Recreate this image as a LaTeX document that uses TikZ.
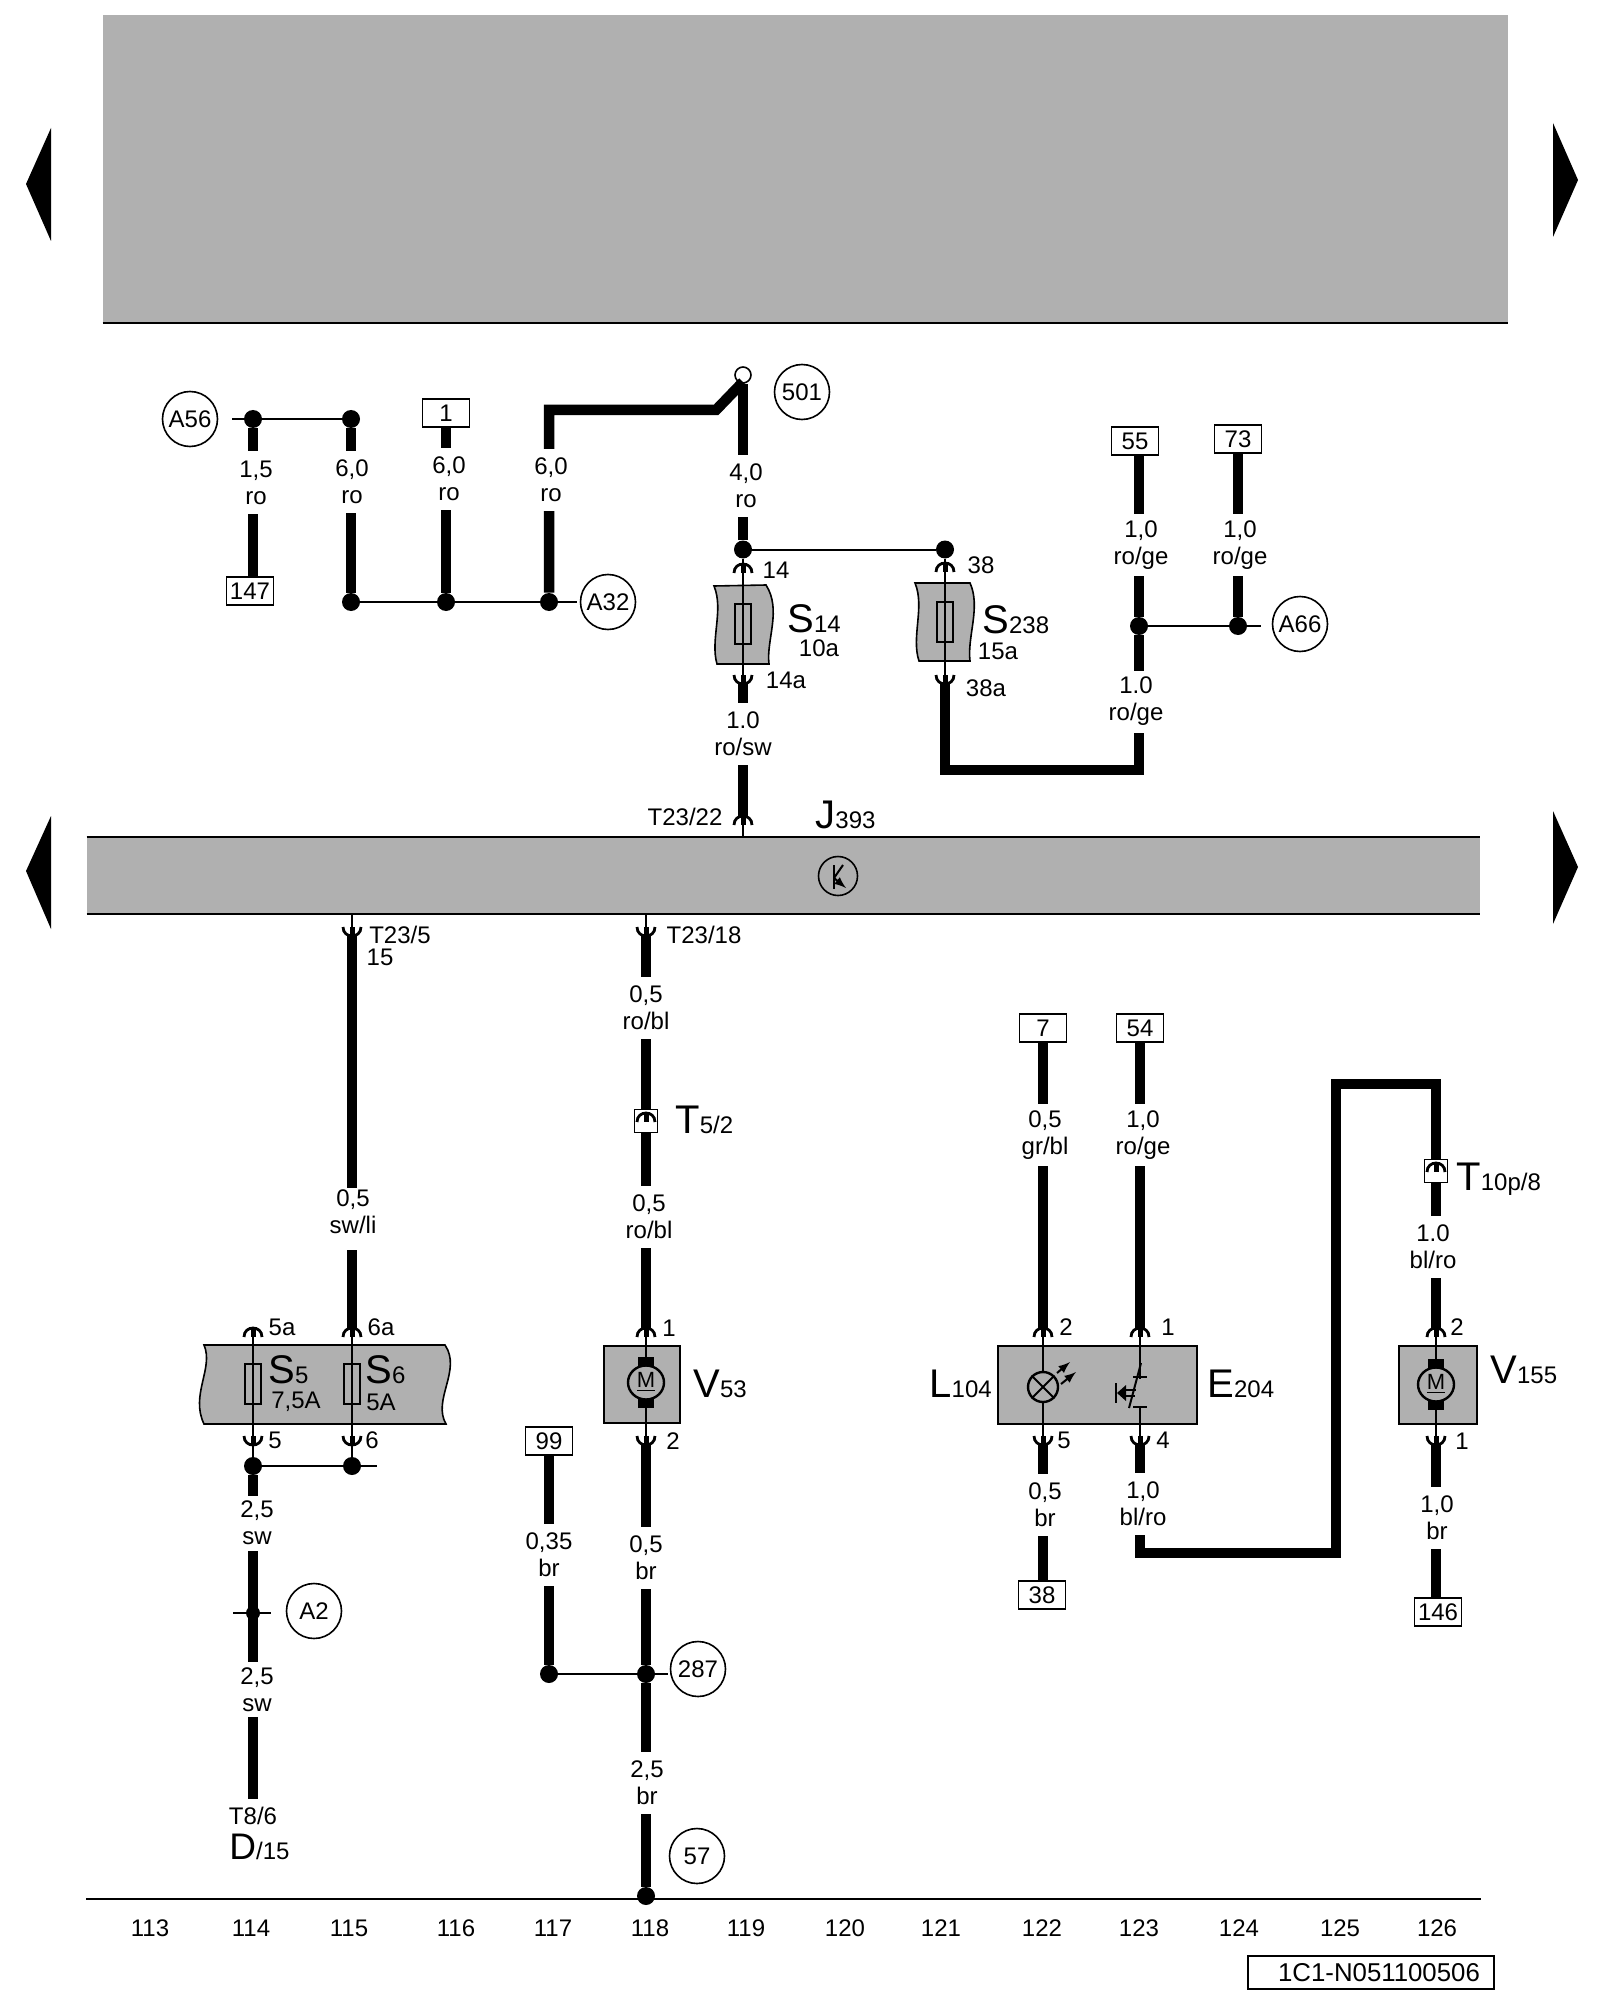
\documentclass[tikz,border=0pt]{standalone}
\usepackage{fontspec}
\setmainfont{Liberation Sans}

\newcommand{\bigs}[2]{{\fontsize{20}{22}\selectfont #1}{\fontsize{12}{14}\selectfont #2}}

\tikzset{
  wire/.style={line width=5.25pt},
  thinw/.style={line width=1pt},
  dotn/.style={circle,fill=black,inner sep=0pt,minimum size=9pt},
  refbox/.style={draw,thick,fill=white,inner sep=0pt,minimum width=23.5pt,minimum height=14pt,font=\fontsize{12}{14}\selectfont},
  tagc/.style={draw,thick,circle,inner sep=0pt,minimum size=27.5pt,font=\fontsize{12}{14}\selectfont},
  lbl/.style={fill=white,inner sep=0pt,align=center,minimum width=20pt,minimum height=#1,font=\fontsize{12}{13.5}\selectfont},
  lbl/.default=31pt,
  txt/.style={inner sep=0pt,font=\fontsize{12}{13.5}\selectfont},
  des/.style={inner sep=0pt,anchor=base west},
  block/.style={draw,thick,fill=panel,inner sep=0pt},
  fuse/.style={draw,thick,inner sep=0pt,minimum width=8pt,minimum height=20pt},
  tbox/.style={draw,thick,fill=white,inner sep=0pt,minimum size=11.5pt},
  plugtop/.pic={
    \draw[line width=1.4pt] (-9,9) .. controls (-9,-3) and (9,-3) .. (9,9);
    \draw[line width=2.5pt] (0,-1) -- (0,9);
  },
  plugbot/.pic={
    \draw[line width=1.4pt] (-9,-9) .. controls (-9,3) and (9,3) .. (9,-9);
    \draw[line width=2.5pt] (0,1) -- (0,-9);
  },
  motor/.pic={
    \fill (-8,-24) rectangle (8,-15);
    \fill (-8,18) rectangle (8,27);
    \draw[line width=1.2pt,fill=panel] (0,1.5) ellipse (18 and 17);
    \node[inner sep=0pt,font=\fontsize{11}{12}\selectfont] (-m) at (0,1) {\underline{M}};
  }
}
\definecolor{panel}{RGB}{176,176,176}

\begin{document}
\begin{tikzpicture}[x=0.5pt,y=-0.5pt]
  \useasboundingbox (0,0) rectangle (1600,2000);

  \fill (26,184) -- (51,128) -- (51,241) -- cycle;
  \fill (1578,180) -- (1553,123) -- (1553,237) -- cycle;
  \fill (26,871) -- (51,816) -- (51,929) -- cycle;
  \fill (1578,867) -- (1553,811) -- (1553,924) -- cycle;

  \node[fill=panel,inner sep=0pt,minimum width=702.5pt,minimum height=154pt] (top) at (805.5,169) {};
  \draw[thinw] (top.south west) -- (top.south east);
  \node[fill=panel,inner sep=0pt,minimum width=696.5pt,minimum height=38.5pt] (bar) at (783.5,875.5) {};
  \draw[thinw] (bar.north west) -- (bar.north east);
  \draw[thinw] (bar.south west) -- (bar.south east);

  \fill[panel,draw=black,thick] (714,586) .. controls (724,610) and (710,640) .. (717,664)
    -- (769,664) .. controls (766,640) and (782,610) .. (766,585) -- cycle;
  \fill[panel,draw=black,thick] (915,583) .. controls (925,607) and (911,637) .. (919,661)
    -- (970,661) .. controls (967,637) and (981,607) .. (970,583) -- cycle;
  \fill[panel,draw=black,thick] (204,1345) .. controls (214,1368) and (190,1395) .. (204,1424)
    -- (446,1424) .. controls (432,1400) and (462,1370) .. (445,1345) -- cycle;

  \node[block,minimum width=38pt,minimum height=38.5pt] (b53) at (642,1384.5) {};
  \node[block,minimum width=99.5pt,minimum height=39pt] (b104) at (1097.5,1385) {};
  \node[block,minimum width=39pt,minimum height=39pt] (b155) at (1438,1385) {};

  \node[tagc] (a56) at (190,419) {A56};
  \node[tagc] (a32) at (608,602) {A32};
  \node[tagc] (c501) at (802,392) {501};
  \node[tagc] (a66) at (1300,624) {A66};
  \node[tagc] (a2) at (314,1611) {A2};
  \node[tagc] (c287) at (698,1669) {287};
  \node[tagc] (c57) at (697,1856) {57};

  \node[refbox] (r147) at (250,591) {147};
  \node[refbox] (r1) at (446,413) {1};
  \node[refbox] (r55) at (1135,441) {55};
  \node[refbox] (r73) at (1238,439) {73};
  \node[refbox] (r99) at (549,1441) {99};
  \node[refbox] (r7) at (1043,1028) {7};
  \node[refbox] (r54) at (1140,1028) {54};
  \node[refbox] (r38) at (1042,1595) {38};
  \node[refbox] (r146) at (1438,1612) {146};

  \node[dotn] (j56) at (253,419) {};
  \node[dotn] (j56b) at (351,419) {};
  \node[dotn] (j32a) at (351,602) {};
  \node[dotn] (j32b) at (446,602) {};
  \node[dotn] (j32c) at (549,602) {};
  \node[dotn] (j14) at (743,549.5) {};
  \node[dotn] (j38) at (945,549.5) {};
  \node[dotn] (j66a) at (1139,626) {};
  \node[dotn] (j66b) at (1238,626) {};
  \node[dotn] (j5) at (253,1466) {};
  \node[dotn] (j6) at (352,1466) {};
  \node[dotn] (j287a) at (549,1674) {};
  \node[dotn] (j287b) at (646,1674) {};
  \node[dotn] (j57) at (646,1896) {};
  \node[circle,draw,thick,fill=white,inner sep=0pt,minimum size=8pt] (o501) at (743,375) {};

  \coordinate (p14) at (743,564);
  \coordinate (p14a) at (743,684);
  \coordinate (p22) at (743,816);
  \coordinate (p38) at (945,563);
  \coordinate (p38a) at (945,684);
  \coordinate (p235) at (352,936);
  \coordinate (p2318) at (646,936);
  \coordinate (p5a) at (253,1328);
  \coordinate (p6a) at (352,1328);
  \coordinate (p5) at (253,1445);
  \coordinate (p6) at (352,1445);
  \coordinate (p531) at (646,1328);
  \coordinate (p532) at (646,1445);
  \coordinate (p1042) at (1043,1328);
  \coordinate (p1045) at (1043,1445);
  \coordinate (p2041) at (1140,1328);
  \coordinate (p2044) at (1140,1445);
  \coordinate (p1552) at (1436,1328);
  \coordinate (p1551) at (1436,1445);
  \coordinate (a56e) at (232,419);
  \coordinate (a32e) at (577,602);
  \coordinate (a66e) at (1261,626);
  \coordinate (j6e) at (377,1466);
  \coordinate (j287e) at (668,1674);
  \coordinate (a2w) at (233,1613);
  \coordinate (a2e) at (271,1613);
  \coordinate (a2m) at (253,1613);
  \coordinate (d15) at (253,1799);
  \coordinate (c548) at (549,410);
  \coordinate (c548b) at (716,410);
  \coordinate (c743) at (743,382);
  \coordinate (c38a) at (945,770);
  \coordinate (c38b) at (1139,770);
  \coordinate (c204a) at (1140,1553);
  \coordinate (c204b) at (1336,1553);
  \coordinate (c204c) at (1336,1084);
  \coordinate (c204d) at (1436,1084);
  \coordinate (g1) at (352,1188);
  \coordinate (g2) at (352,1250);
  \coordinate (ax1) at (86,1899);
  \coordinate (ax2) at (1481,1899);

  \node[tbox] (t52) at (646,1121) {};
  \node[tbox] (t108) at (1436,1171) {};

  \draw[thinw] (a56e) -- (j56b);
  \draw[thinw] (j32a) -- (a32e);
  \draw[thinw] (j14) -- (j38);
  \draw[thinw] (j66a) -- (a66e);
  \draw[thinw] (j5) -- (j6e);
  \draw[thinw] (j287a) -- (j287e);
  \draw[thinw] (a2w) -- (a2e);
  \draw[thinw] (ax1) -- (ax2);

  \draw[wire] (j56) -- (j56 |- r147.north);
  \draw[wire] (j56b) -- (j32a);
  \draw[wire] (r1) -- (j32b);
  \draw[wire] (j32c) -- (c548) -- (c548b) -- (c743);
  \draw[wire] (o501) -- (j14);
  \draw[wire] (p14a) -- (p22);
  \draw[wire] (p38a) -- (c38a) -- (c38b) -- (j66a);
  \draw[wire] (j66a |- r55.south) -- (j66a);
  \draw[wire] (r73) -- (j66b);
  \draw[wire] (p235) -- (g1);
  \draw[wire] (g2) -- (p6a);
  \draw[wire] (j5) -- (d15);
  \draw[wire] (p2318) -- (t52);
  \draw[wire] (t52) -- (p531);
  \draw[wire] (p532) -- (j287b);
  \draw[wire] (j287b) -- (j57);
  \draw[wire] (r99) -- (j287a);
  \draw[wire] (r7) -- (p1042);
  \draw[wire] (r54) -- (p2041);
  \draw[wire] (p1045) -- (p1045 |- r38.north);
  \draw[wire] (p2044) -- (c204a) -- (c204b) -- (c204c) -- (c204d) -- (t108);
  \draw[wire] (t108) -- (p1552);
  \draw[wire] (p1551) -- (p1551 |- r146.north);

  \draw[thinw] (j14) -- (p14a);
  \draw[thinw] (j38) -- (p38a);
  \draw[thinw] (p22) -- (p22 |- bar.north);
  \draw[thinw] (p235 |- bar.south) -- (p235);
  \draw[thinw] (p2318 |- bar.south) -- (p2318);
  \draw[thinw] (p5a) -- (p5);
  \draw[thinw] (p6a) -- (p6);
  \draw[thinw] (p5) -- (j5);
  \draw[thinw] (p6) -- (j6);
  \draw[thinw] (p531) -- (p532);
  \draw[thinw] (p1042) -- (p1045);
  \draw[thinw] (p2041) -- (1140,1379);
  \draw[thinw] (1140,1407) -- (p2044);
  \draw[thinw] (p1552) -- (p1551);

  \pic at (p14) {plugtop};
  \pic at (p38) {plugtop};
  \pic at (p22) {plugtop};
  \pic at (p5a) {plugtop};
  \pic at (p6a) {plugtop};
  \pic at (p531) {plugtop};
  \pic at (p1042) {plugtop};
  \pic at (p2041) {plugtop};
  \pic at (p1552) {plugtop};
  \pic at (p14a) {plugbot};
  \pic at (p38a) {plugbot};
  \pic at (p235) {plugbot};
  \pic at (p2318) {plugbot};
  \pic at (p5) {plugbot};
  \pic at (p6) {plugbot};
  \pic at (p532) {plugbot};
  \pic at (p1045) {plugbot};
  \pic at (p2044) {plugbot};
  \pic at (p1551) {plugbot};
  \pic at ([yshift=4pt]t52.center) {plugtop};
  \pic at ([yshift=4pt]t108.center) {plugtop};

  \node[fuse] (f14) at (743,624) {};
  \node[fuse] (f238) at (945,622) {};
  \node[fuse] (f5) at (253,1384) {};
  \node[fuse] (f6) at (352,1384) {};
  \fill (a2m) circle (7);

  \pic (m53) at (646,1381) {motor};
  \pic (m155) at (1436,1383) {motor};

  \node[circle,draw,line width=1.2pt,fill=panel,inner sep=0pt,minimum size=15pt] (lamp) at (1043,1387) {};
  \draw[thinw] (lamp.north west) -- (lamp.south east);
  \draw[thinw] (lamp.north east) -- (lamp.south west);
  \draw[thinw,-latex] (1057,1373) -- (1070,1362);
  \draw[thinw,-latex] (1061,1384) -- (1076,1372);
  \draw[thinw] (1129,1408) -- (1141,1363);
  \draw[thinw] (1133,1377) -- (1147,1377);
  \draw[thinw] (1133,1407) -- (1147,1407);
  \fill (1117,1393) -- (1126,1385) -- (1126,1401) -- cycle;
  \fill (1115,1383) rectangle (1117,1403);
  \draw[thinw] (1126,1390) -- (1136,1390);
  \draw[thinw] (1126,1396) -- (1135,1396);

  \node[circle,draw,thick,inner sep=0pt,minimum size=19.5pt] (sym) at (838,876) {};
  \draw[line width=1.2pt] (834,865) -- (834,889);
  \draw[thinw] (834,878) -- (843,865);
  \draw[thinw,-latex] (834,878) -- (846,888);

  \node[lbl] (l147) at (256,482.5) {1,5\\ro};
  \node[lbl] (l351) at (352,482) {6,0\\ro};
  \node[lbl] (l446) at (449,479) {6,0\\ro};
  \node[lbl] (l549) at (551,480) {6,0\\ro};
  \node[lbl] (l40) at (746,486) {4,0\\ro};
  \node[lbl] (l10sw) at (743,733.5) {1.0\\ro/sw};
  \node[lbl] (l55) at (1141,545) {1,0\\ro/ge};
  \node[lbl] (l73) at (1240,545) {1,0\\ro/ge};
  \node[lbl] (l66) at (1136,701.5) {1.0\\ro/ge};
  \node[txt,align=center] (lsw) at (353,1212) {0,5\\sw/li};
  \node[lbl=27.5pt] (l25a) at (257,1523) {2,5\\sw};
  \node[lbl=27.5pt] (l25b) at (257,1689.5) {2,5\\sw};
  \node[lbl] (l18a) at (646,1008) {0,5\\ro/bl};
  \node[lbl] (l18b) at (649,1217) {0,5\\ro/bl};
  \node[lbl] (l53) at (646,1558) {0,5\\br};
  \node[lbl] (l99) at (549,1555) {0,35\\br};
  \node[lbl] (l57) at (647,1783) {2,5\\br};
  \node[lbl] (l7) at (1045,1135) {0,5\\gr/bl};
  \node[lbl] (l54) at (1143,1135) {1,0\\ro/ge};
  \node[lbl] (l38) at (1045,1505) {0,5\\br};
  \node[lbl] (l204) at (1143,1504) {1,0\\bl/ro};
  \node[lbl] (l108) at (1433,1247) {1.0\\bl/ro};
  \node[lbl] (l146) at (1437,1518) {1,0\\br};

  \node[txt] (t14) at (776,570) {14};
  \node[txt] (t14a) at (786,680) {14a};
  \node[txt] (t38) at (981,565) {38};
  \node[txt] (t38a) at (986,688) {38a};
  \node[txt] (t10a) at (819,648) {10a};
  \node[txt] (t15a) at (998,651) {15a};
  \node[txt] (t2322) at (685,817) {T23/22};
  \node[txt] (t235) at (400,935) {T23/5};
  \node[txt] (t15) at (380,957) {15};
  \node[txt] (t2318) at (704,935) {T23/18};
  \node[txt] (t5a) at (282,1327) {5a};
  \node[txt] (t6a) at (381,1327) {6a};
  \node[txt] (t5) at (275,1440) {5};
  \node[txt] (t6) at (372,1440) {6};
  \node[txt] (t75) at (296,1402) {7,5A};
  \node[txt] (t5A) at (381,1402) {5A};
  \node[txt] (t531) at (669,1328) {1};
  \node[txt] (t532) at (673,1441) {2};
  \node[txt] (t1042) at (1066,1327) {2};
  \node[txt] (t2041) at (1168,1327) {1};
  \node[txt] (t1045) at (1064,1440) {5};
  \node[txt] (t2044) at (1163,1440) {4};
  \node[txt] (t1552) at (1457,1327) {2};
  \node[txt] (t1551) at (1462,1441) {1};
  \node[txt] (t86) at (253,1816) {T8/6};

  \node[des] (s14) at (787,632) {\bigs{S}{14}};
  \node[des] (s238) at (982,633) {\bigs{S}{238}};
  \node[des] (j393) at (815,828) {\bigs{J}{393}};
  \node[des] (s5) at (268,1383) {\bigs{S}{5}};
  \node[des] (s6) at (365,1383) {\bigs{S}{6}};
  \node[des] (v53) at (693,1397) {\bigs{V}{53}};
  \node[des] (l104) at (929,1397) {\bigs{L}{104}};
  \node[des] (e204) at (1207,1397) {\bigs{E}{204}};
  \node[des] (v155) at (1490,1383) {\bigs{V}{155}};
  \node[des] (t52l) at (675,1133) {\bigs{T}{5/2}};
  \node[des] (t108l) at (1456,1190) {\bigs{T}{10p/8}};
  \node[des] (d15l) at (229,1859) {{\fontsize{18.5}{19}\selectfont D}{\fontsize{12}{14}\selectfont /15}};

  \node[txt] (n113) at (150,1928) {113};
  \node[txt] (n114) at (251,1928) {114};
  \node[txt] (n115) at (349,1928) {115};
  \node[txt] (n116) at (456,1928) {116};
  \node[txt] (n117) at (553,1928) {117};
  \node[txt] (n118) at (650,1928) {118};
  \node[txt] (n119) at (746,1928) {119};
  \node[txt] (n120) at (845,1928) {120};
  \node[txt] (n121) at (941,1928) {121};
  \node[txt] (n122) at (1042,1928) {122};
  \node[txt] (n123) at (1139,1928) {123};
  \node[txt] (n124) at (1239,1928) {124};
  \node[txt] (n125) at (1340,1928) {125};
  \node[txt] (n126) at (1437,1928) {126};

  \node[draw,thick,inner sep=0pt,minimum width=123pt,minimum height=16.5pt,font=\fontsize{12.9}{14}\selectfont] (code) at (1371,1972.5) {\hspace*{8pt}1C1-N051100506};
\end{tikzpicture}
\end{document}
